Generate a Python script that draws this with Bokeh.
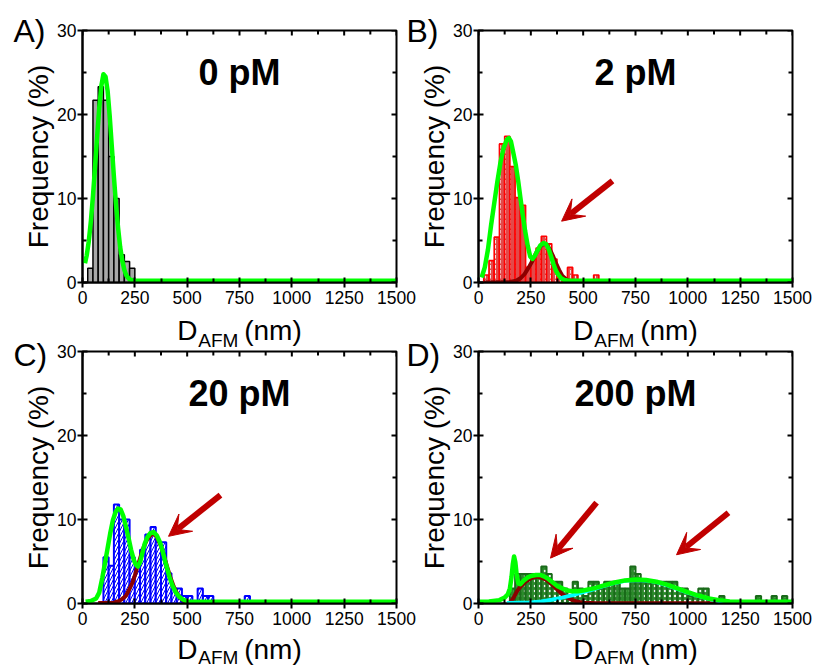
from bokeh.plotting import figure
from bokeh.layouts import row, column
from bokeh.models import (Range1d, FixedTicker, LinearAxis, Label, Arrow, VeeHead,
                          ColumnDataSource)
from bokeh.embed import file_html
from bokeh.resources import INLINE

FONT = "Liberation Sans"
BIN_W = 25
X_TICKS = [0, 250, 500, 750, 1000, 1250, 1500]
X_MINOR = [125, 375, 625, 875, 1125, 1375]
Y_TICKS = [0, 10, 20, 30]
Y_MINOR = [5, 15, 25]
LETTERS = ["A)", "B)", "C)", "D)"]
CONCS = ["0 pM", "2 pM", "20 pM", "200 pM"]
Y_LABEL = "Frequency (%)"
NB = "\u00a0"
X_LABEL_MAIN = "D" + NB * 6 + "(nm)"
X_LABEL_SUB = "AFM" + NB * 8

# ---- histograms (bin left edge in nm, frequency in %) ----
a_left = [25, 50, 75, 100, 125, 150, 175, 200, 225]
a_freq = [1.7, 21.7, 23.3, 21.7, 15.0, 10.0, 3.3, 2.5, 1.7]

b_left = [25, 50, 75, 100, 125, 150, 175, 200, 225, 250, 275, 300, 325, 350, 375, 425, 450, 550]
b_freq = [0.9, 2.6, 5.4, 16.5, 17.4, 13.8, 10.1, 9.2, 1.8, 2.8, 4.1, 5.5, 4.6, 2.8, 0.9, 1.8, 0.9, 0.9]

c_left = [100, 125, 150, 175, 200, 225, 250, 275, 300, 325, 350, 375, 400, 425, 450, 475,
          500, 550, 575, 600, 775]
c_freq = [5.5, 4.5, 11.8, 10.0, 10.0, 5.5, 4.5, 6.4, 8.2, 9.1, 7.3, 7.3, 3.6, 1.8, 1.8, 0.9,
          0.9, 1.8, 0.9, 0.9, 0.9]

d_left = [150, 175, 200, 225, 250, 275, 300, 325, 350, 375, 400, 425, 450, 475, 500, 525,
          550, 575, 600, 625, 650, 675, 700, 725, 750, 775, 800, 825, 850, 875, 900, 925,
          950, 975, 1000, 1025, 1050, 1075, 1150, 1325, 1400, 1450]
d_freq = [1.8, 3.5, 3.5, 3.5, 3.5, 3.5, 4.4, 3.5, 2.6, 2.6, 1.8, 0.9, 2.6, 1.8, 0.9, 2.6,
          2.6, 1.8, 2.6, 2.6, 2.6, 1.8, 1.8, 4.4, 3.5, 2.6, 2.6, 2.6, 2.6, 2.6, 2.6, 2.6,
          1.8, 1.8, 0.9, 0.9, 1.8, 1.8, 0.9, 0.9, 0.9, 0.9]

# ---- fitted curves ----
a_fit_x = [12, 20, 30, 40, 50, 60, 70, 80, 90, 100, 110, 120, 130, 140, 150, 160, 170, 180,
           190, 200, 210, 225, 250, 1500]
a_fit_y = [2.3, 3.2, 4.9, 7.3, 10.3, 13.8, 17.4, 20.8, 23.4, 24.8, 24.5, 22.8, 19.8, 16.2,
           12.6, 9.3, 6.5, 4.2, 2.6, 1.5, 0.8, 0.35, 0.2, 0.2]

b_fit_x = [15, 30, 45, 60, 75, 90, 105, 120, 135, 145, 155, 165, 178, 190, 200, 212, 223, 235,
           247, 258, 270, 282, 295, 310, 322, 335, 347, 358, 370, 382, 395, 410, 430, 1500]
b_fit_y = [0.6, 1.8, 3.9, 6.8, 9.4, 12.0, 14.3, 16.0, 17.0, 17.2, 16.8, 15.6, 14.0, 12.0, 10.1,
           7.9, 6.1, 4.4, 3.1, 2.8, 3.2, 3.8, 4.4, 4.7, 4.6, 4.0, 3.1, 2.2, 1.4, 0.9, 0.5, 0.3,
           0.2, 0.2]
b_comp2_x = [25, 150, 180, 200, 220, 240, 258, 275, 292, 310, 325, 340, 355, 370, 385, 400,
             420, 445, 480]
b_comp2_y = [0.0, 0.05, 0.2, 0.5, 1.0, 1.8, 2.6, 3.5, 4.2, 4.6, 4.5, 4.0, 3.2, 2.3, 1.5, 0.8,
             0.35, 0.1, 0.0]

c_fit_x = [15, 40, 65, 80, 95, 108, 120, 132, 145, 158, 170, 182, 195, 207, 220, 232, 245,
           255, 265, 275, 285, 297, 310, 325, 340, 355, 370, 382, 395, 405, 415, 430, 446,
           462, 478, 500, 530, 1500]
c_fit_y = [0.2, 0.3, 0.6, 1.3, 3.1, 4.9, 6.6, 8.3, 9.9, 10.9, 11.3, 11.2, 10.4, 9.2, 7.8, 6.4,
           5.2, 4.6, 4.4, 4.9, 5.9, 7.1, 7.9, 8.4, 8.5, 8.1, 7.3, 6.3, 5.0, 4.1, 3.2, 2.1, 1.3,
           0.8, 0.5, 0.25, 0.2, 0.2]
c_comp2_x = [75, 150, 175, 190, 207, 222, 239, 251, 263, 278, 292, 308, 324, 340, 356, 372,
             388, 404, 420, 436, 452, 468, 485, 500, 520]
c_comp2_y = [0.05, 0.1, 0.3, 0.55, 0.9, 1.6, 2.5, 3.4, 4.4, 5.6, 6.7, 7.6, 8.1, 8.3, 7.9, 7.0,
             5.8, 4.4, 3.1, 2.0, 1.2, 0.6, 0.3, 0.15, 0.05]

d_fit_x = [5, 50, 100, 125, 140, 150, 158, 164, 170, 176, 182, 190, 200, 215, 235, 255, 275,
           295, 315, 335, 355, 375, 400, 425, 450, 475, 500, 550, 600, 650, 700, 750, 800,
           850, 900, 950, 1000, 1050, 1100, 1150, 1200, 1250, 1500]
d_fit_y = [0.2, 0.25, 0.4, 0.7, 1.1, 1.8, 3.2, 4.7, 5.6, 4.9, 3.5, 2.4, 2.3, 2.7, 3.1, 3.3,
           3.4, 3.4, 3.2, 2.9, 2.5, 2.1, 1.8, 1.55, 1.45, 1.45, 1.55, 1.8, 2.15, 2.5, 2.75,
           2.85, 2.8, 2.6, 2.25, 1.8, 1.35, 0.95, 0.6, 0.4, 0.25, 0.2, 0.2]
d_comp2_x = [140, 155, 170, 185, 200, 225, 250, 275, 300, 325, 350, 375, 400, 425, 450, 475,
             500, 550, 1500]
d_comp2_y = [0.0, 0.2, 0.8, 1.5, 2.0, 2.6, 3.0, 3.2, 3.1, 2.8, 2.3, 1.7, 1.1, 0.7, 0.4, 0.2,
             0.1, 0.05, 0.0]
d_comp3_x = [135, 200, 250, 300, 350, 400, 450, 500, 550, 600, 650, 700, 750, 800, 850, 900,
             950, 1000, 1050, 1100, 1150, 1200, 1300, 1500]
d_comp3_y = [0.05, 0.08, 0.12, 0.25, 0.45, 0.7, 1.0, 1.35, 1.7, 2.1, 2.45, 2.7, 2.8, 2.75,
             2.55, 2.2, 1.75, 1.3, 0.9, 0.55, 0.3, 0.15, 0.05, 0.0]

# ---- arrows (x_start, y_start, x_end, y_end) in data units ----
b_arrows = [(640, 12.1, 397, 7.3)]
c_arrows = [(659, 12.9, 411, 8.0)]
d_arrows = [(564, 12.0, 344, 5.4), (1194, 10.8, 946, 5.8)]

GREEN = "#00ff00"
DARKRED = "#8b0000"
CYAN = "#00ffff"
ARROW = "#c00000"

STYLE_A = dict(fill_color="#a8a8a8", line_color="black", line_width=1.5)
STYLE_B = dict(fill_color="#e24a4a", line_color="#ff0000", line_width=1.6,
               hatch_pattern=":", hatch_color="#f0e0e0", hatch_scale=5, hatch_weight=1)
STYLE_C = dict(fill_color="white", line_color="#0000ff", line_width=2,
               hatch_pattern="/", hatch_color="#0000ff", hatch_scale=6, hatch_weight=1)
STYLE_D = dict(fill_color="#2a8a2a", line_color="#1a6a1a", line_width=2,
               hatch_pattern=".", hatch_color="#f0f0f0", hatch_scale=5, hatch_weight=1)

FRAME_W = 314
FRAME_H = 252


def style_axis(ax, tin, tout, mtin):
    ax.axis_line_width = 2
    ax.axis_line_color = "black"
    ax.major_tick_line_width = 2
    ax.minor_tick_line_width = 2
    ax.major_tick_in = tin
    ax.major_tick_out = tout
    ax.minor_tick_in = mtin
    ax.minor_tick_out = 0
    ax.major_label_text_font = FONT
    ax.major_label_text_font_size = "17.5px"
    ax.major_label_text_color = "black"


def make_panel(idx, left, freq, bar_style, curves, arrows, borders, letter_offset,
               letter_standoff, xlabel_standoff, sub_standoff):
    lb, rb, tb, bb = borders
    p = figure(frame_width=FRAME_W, frame_height=FRAME_H, title=LETTERS[idx],
               x_range=Range1d(0, 1500), y_range=Range1d(0, 30),
               output_backend="svg", toolbar_location=None,
               min_border_left=lb, min_border_right=rb,
               min_border_top=tb, min_border_bottom=bb,
               background_fill_color="white", border_fill_color=None)
    p.xgrid.visible = False
    p.ygrid.visible = False
    p.outline_line_color = "black"
    p.outline_line_width = 2

    # panel letter (title placed over the top-left corner)
    p.title.align = "left"
    p.title.offset = letter_offset
    p.title.standoff = letter_standoff
    p.title.vertical_align = "bottom"
    p.title.text_font = FONT
    p.title.text_font_size = "32px"
    p.title.text_font_style = "normal"
    p.title.text_color = "black"

    style_axis(p.xaxis[0], 5, 5, 4)
    style_axis(p.yaxis[0], 5, 5, 4)
    p.xaxis.ticker = FixedTicker(ticks=X_TICKS, minor_ticks=X_MINOR)
    p.yaxis.ticker = FixedTicker(ticks=Y_TICKS, minor_ticks=Y_MINOR)
    p.xaxis.major_label_standoff = 3
    p.yaxis.major_label_standoff = 1
    p.yaxis.axis_label = Y_LABEL
    p.yaxis.axis_label_text_font = FONT
    p.yaxis.axis_label_text_font_size = "28px"
    p.yaxis.axis_label_text_font_style = "normal"
    p.yaxis.axis_label_text_color = "black"
    p.yaxis.axis_label_standoff = 0

    p.xaxis.axis_label = X_LABEL_MAIN
    p.xaxis.axis_label_text_font = FONT
    p.xaxis.axis_label_text_font_size = "28px"
    p.xaxis.axis_label_text_font_style = "normal"
    p.xaxis.axis_label_text_color = "black"
    p.xaxis.axis_label_standoff = xlabel_standoff

    # subscript of the x label, carried by a tick-less axis
    sub = LinearAxis(ticker=FixedTicker(ticks=[]), axis_line_color=None,
                     major_tick_line_color=None, minor_tick_line_color=None,
                     major_tick_in=0, major_tick_out=0, minor_tick_in=0, minor_tick_out=0,
                     major_label_standoff=0,
                     axis_label=X_LABEL_SUB, axis_label_standoff=sub_standoff,
                     axis_label_text_font=FONT, axis_label_text_font_size="19px",
                     axis_label_text_font_style="normal", axis_label_text_color="black")
    p.add_layout(sub, "below")

    src = ColumnDataSource(dict(left=left, right=[v + BIN_W for v in left], top=freq))
    p.quad(left="left", right="right", bottom=0, top="top", source=src, **bar_style)

    for xs, ys, color, width in curves:
        p.line(xs, ys, line_color=color, line_width=width, line_join="round")

    # inward ticks on the top and right edges, at the same tick values
    ty_major = 30 - 5 * 30 / FRAME_H
    ty_minor = 30 - 4 * 30 / FRAME_H
    rx_major = 1500 - 5 * 1500 / FRAME_W
    rx_minor = 1500 - 4 * 1500 / FRAME_W
    p.segment(x0=X_TICKS, y0=[30] * len(X_TICKS), x1=X_TICKS, y1=[ty_major] * len(X_TICKS),
              line_color="black", line_width=2)
    p.segment(x0=X_MINOR, y0=[30] * len(X_MINOR), x1=X_MINOR, y1=[ty_minor] * len(X_MINOR),
              line_color="black", line_width=2)
    p.segment(x0=[1500] * len(Y_TICKS), y0=Y_TICKS, x1=[rx_major] * len(Y_TICKS), y1=Y_TICKS,
              line_color="black", line_width=2)
    p.segment(x0=[1500] * len(Y_MINOR), y0=Y_MINOR, x1=[rx_minor] * len(Y_MINOR), y1=Y_MINOR,
              line_color="black", line_width=2)

    for x0, y0, x1, y1 in arrows:
        p.add_layout(Arrow(end=VeeHead(size=22, fill_color=ARROW, line_color=ARROW, line_width=1),
                           x_start=x0, y_start=y0, x_end=x1, y_end=y1,
                           line_color=ARROW, line_width=6))

    p.add_layout(Label(x=157, y=210, x_units="screen", y_units="screen",
                       text=CONCS[idx], text_font=FONT, text_font_size="36px",
                       text_font_style="bold", text_color="black",
                       text_align="center", text_baseline="alphabetic"))
    return p


pA = make_panel(0, a_left, a_freq, STYLE_A,
                [(a_fit_x, a_fit_y, GREEN, 4.5)], [],
                (82, 24, 30, 60), -69, -37, 8, -19)
pB = make_panel(1, b_left, b_freq, STYLE_B,
                [(b_comp2_x, b_comp2_y, DARKRED, 4), (b_fit_x, b_fit_y, GREEN, 4.5)], b_arrows,
                (76, 20, 30, 60), -72, -37, 8, -19)
pC = make_panel(2, c_left, c_freq, STYLE_C,
                [(c_comp2_x, c_comp2_y, DARKRED, 4), (c_fit_x, c_fit_y, GREEN, 4.5)], c_arrows,
                (82, 24, 18, 60), -69, -43, 6, -21)
pD = make_panel(3, d_left, d_freq, STYLE_D,
                [(d_comp2_x, d_comp2_y, DARKRED, 4), (d_comp3_x, d_comp3_y, CYAN, 4),
                 (d_fit_x, d_fit_y, GREEN, 4.5)], d_arrows,
                (76, 20, 18, 60), -72, -43, 6, -21)

# right-hand panels and the lower row overlap their neighbours' empty borders
pB.margin = (0, 0, 0, -18)
pD.margin = (0, 0, 0, -18)
top_row = row(pA, pB)
bottom_row = row(pC, pD)
bottom_row.margin = (-20, 0, 0, 0)
layout = column(top_row, bottom_row)

open("out.html", "w").write(file_html(layout, INLINE))
